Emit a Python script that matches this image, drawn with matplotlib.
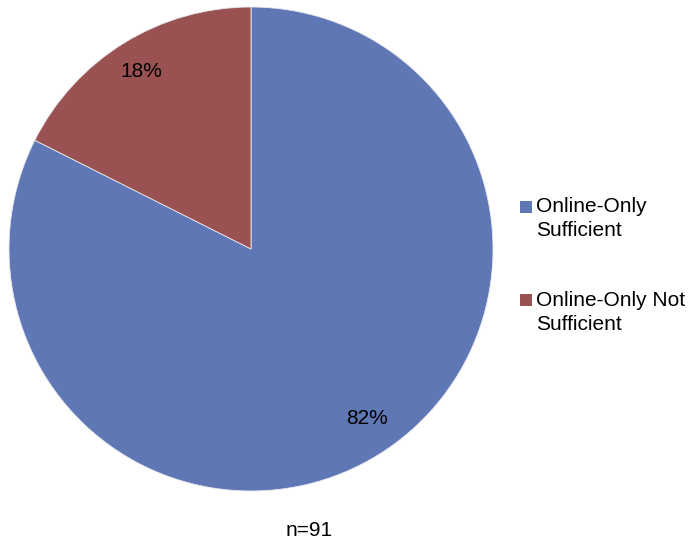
import matplotlib
matplotlib.use("Agg")
import matplotlib.pyplot as plt
from matplotlib.patches import Rectangle

plt.rcParams['font.family'] = ['Liberation Sans', 'DejaVu Sans']

categories = [["Online-Only", "Sufficient"], ["Online-Only Not", "Sufficient"]]
values = [75, 16]  # counts out of n=91 -> 82%, 18%
colors = ["#5F77B5", "#9A5151"]
note = "n=91"

W, H = 692, 544
fig = plt.figure(figsize=(W / 100, H / 100), dpi=100)
cx, cy, r = 251, 249, 242
ax = fig.add_axes([(cx - r) / W, (H - cy - r) / H, 2 * r / W, 2 * r / H])
wedges, texts, autotexts = ax.pie(
    values, colors=colors, startangle=90, counterclock=False,
    autopct=lambda p: f"{p:.0f}%", pctdistance=0.86,
    wedgeprops=dict(edgecolor="#E8E8F0", linewidth=0.6),
    textprops=dict(fontsize=15, color="black"))
ax.set_xlim(-1, 1)
ax.set_ylim(-1, 1)
ax.set_aspect('equal')
ax.axis('off')
# small nudge of the large-slice label as in the original
x0, y0 = autotexts[0].get_position()
autotexts[0].set_position((x0 + 0.03, y0 + 0.03))

# legend drawn manually
ys = [207, 300]
for lines, col, y in zip(categories, colors, ys):
    fig.patches.append(Rectangle((520 / W, (H - y - 6) / H), 12 / W, 12 / H,
                                 transform=fig.transFigure, facecolor=col, edgecolor='none'))
    for k, line in enumerate(lines):
        fig.text(536 / W, (H - y - 24 * k) / H, line, fontsize=15, va='center', ha='left')

fig.text(309 / W, (H - 531) / H, note, fontsize=15, ha='center', va='center')

fig.savefig("out.png", dpi=100)
